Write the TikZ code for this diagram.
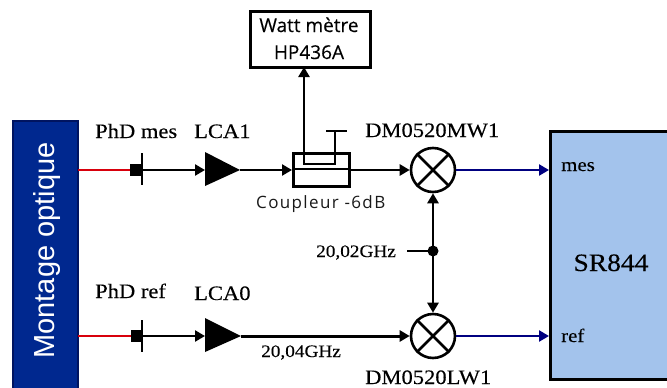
\documentclass[tikz,border=0pt]{standalone}
\usepackage{fontspec}
\setmainfont[FakeStretch=1.1,FakeBold=0.2]{Liberation Serif}
\newfontfamily\lsans{Liberation Sans}
\newfontfamily\osans[FakeBold=0.25]{Open Sans}
\newfontfamily\csans[LetterSpace=8]{Open Sans}
\usetikzlibrary{arrows.meta}
\definecolor{navyfill}{HTML}{00288F}
\definecolor{navyedge}{HTML}{001460}
\definecolor{srfill}{HTML}{A3C3EC}
\definecolor{rf}{HTML}{000080}
\definecolor{redline}{HTML}{D8000C}
\tikzset{x=1pt,y=-1pt,
  wire/.style={line width=2.5pt,draw=black},
  arr/.style={wire,-{Triangle[length=10pt,width=11pt]}},
  bluearr/.style={line width=2.5pt,draw=rf,-{Triangle[length=10pt,width=11pt]}},
  redwire/.style={line width=2.4pt,draw=redline},
  mixer/.style={circle,draw=black,line width=2.6pt,fill=white,minimum size=44pt,inner sep=0pt},
  amp/.style={fill=black,draw=none},
  lab/.style={inner sep=0pt,anchor=base west,font=\fontsize{20.5}{22}\selectfont},
  small/.style={inner sep=0pt,anchor=base west,font=\fontsize{17.5}{19}\selectfont},
  box/.style={draw=black,line width=2.6pt,fill=white}}
\begin{document}
\begin{tikzpicture}
\useasboundingbox (0,0) rectangle (667,388);
\clip (0,0) rectangle (667,388);
% big blocks
\node[draw=navyedge,fill=navyfill,line width=2.4pt,minimum width=65pt,minimum height=280pt,inner sep=0pt] (opt) at (45.5,261) {};
\node[rotate=90,inner sep=0pt,text=white,anchor=base,font=\lsans\fontsize{29}{30}\selectfont] (opttxt) at (54,250.5) {Montage optique};
\node[draw=black,fill=srfill,line width=2.6pt,minimum width=160pt,minimum height=248pt,inner sep=0pt,anchor=north west] (sr) at (549,130) {};
\node[inner sep=0pt,font=\fontsize{25}{27}\selectfont,anchor=base] (srtxt) at (611,271) {SR844};
\node[lab,font=\fontsize{19}{21}\selectfont] (mestxt) at (561,171) {mes};
\node[lab,font=\fontsize{19}{21}\selectfont] (reftxt) at (561,342) {ref};
% wattmeter
\node[box,minimum width=120pt,minimum height=56pt,inner sep=0pt,anchor=north west] (watt) at (249,10) {};
\node[inner sep=0pt,anchor=base,font=\osans\fontsize{19}{21}\selectfont] (w1) at (309,32) {Watt mètre};
\node[inner sep=0pt,anchor=base,font=\osans\fontsize{19}{21}\selectfont] (w2) at (309,59) {HP436A};
% named points
\coordinate (r1a) at (78,170); \coordinate (r1b) at (131,170);
\coordinate (r2a) at (78,336); \coordinate (r2b) at (131,336);
\coordinate (b1t) at (142,153); \coordinate (b1b) at (142,185); \coordinate (b1c) at (142,170);
\coordinate (b2t) at (142,320); \coordinate (b2b) at (142,352); \coordinate (b2c) at (142,336);
\coordinate (a1) at (205,170); \coordinate (a1t) at (240,170);
\coordinate (a2) at (205,336); \coordinate (a2t) at (241,336);
% red lines
\draw[redwire] (r1a) -- (r1b);
\draw[redwire] (r2a) -- (r2b);
% photodiodes
\fill[black] (130,163.5) rectangle (142,175.5);
\fill[black] (131,330) rectangle (142,342);
\draw[line width=2.6pt] (b1t) -- (b1b);
\draw[line width=2.6pt] (b2t) -- (b2b);
\draw[arr] (b1c) -- (a1);
\draw[arr] (b2c) -- (a2);
% amplifiers
\fill[amp] (205,152) -- (240,170) -- (205,186) -- cycle;
\fill[amp] (205,318) -- (241,336) -- (205,352) -- cycle;
% coupler
\node[box,fill=none,minimum width=56pt,minimum height=33pt,inner sep=0pt,anchor=north west] (coup) at (292,152) {};
\draw[arr] (a1t) -- (coup.west |- a1t);
\coordinate (ul) at (304,164); \coordinate (ur) at (335,164);
\coordinate (tee) at (335,131);
\draw[wire] (coup.west |- 0,169) -- (coup.east |- 0,169);
\draw[wire] (tee) -- (ur) -- (ul) -- (304,152);
\draw[arr] (304,152) -- (304,67);
\draw[wire] (326,131) -- (347,131);
% mixers
\node[mixer] (m1) at (433,170) {};
\node[mixer] (m2) at (433,336) {};
\draw[line width=2.6pt] (m1.north west) -- (m1.south east) (m1.north east) -- (m1.south west);
\draw[line width=2.6pt] (m2.north west) -- (m2.south east) (m2.north east) -- (m2.south west);
\draw[arr] (coup.east |- m1) -- (m1.west);
\draw[arr,line width=3pt] (a2t) -- (m2.west);
\draw[bluearr] (m1.east) -- (sr.west |- m1);
\draw[bluearr] (m2.east) -- (sr.west |- m2);
% LO
\coordinate (dot) at (433,251);
\coordinate (lo) at (407,251);
\draw[arr] (dot) -- (m1.south);
\draw[arr] (dot) -- (m2.north);
\draw[wire] (lo) -- (dot);
\fill (dot) circle (5.5pt);
% labels
\node[lab] (l1) at (95,138) {PhD mes};
\node[lab] (l2) at (194,138) {LCA1};
\node[lab] (l3) at (95,298) {PhD ref};
\node[lab] (l4) at (194,300) {LCA0};
\node[lab] (l5) at (365,137) {DM0520MW1};
\node[lab] (l6) at (365,384) {DM0520LW1};
\node[inner sep=0pt,anchor=base west,text=black!90,font=\csans\fontsize{17}{19}\selectfont] (l7) at (256,208) {Coupleur -6dB};
\node[small] (l8) at (316,257) {20,02GHz};
\node[small] (l9) at (261,357) {20,04GHz};
\end{tikzpicture}
\end{document}
